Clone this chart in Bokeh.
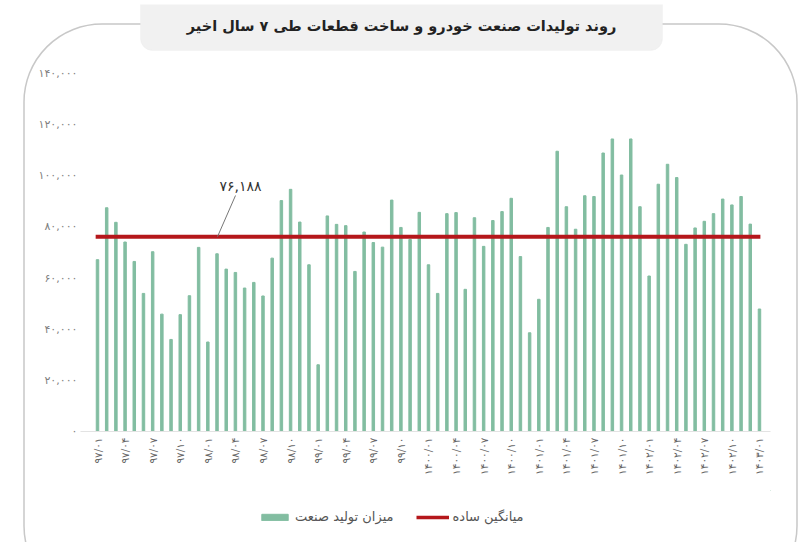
import math
from bokeh.plotting import figure
from bokeh.layouts import column
from bokeh.models import (Range1d, FixedTicker, BoxAnnotation, Label, Legend, LegendItem)
from bokeh.embed import file_html
from bokeh.resources import INLINE

# ---- data ----
production = [
    67200, 87500, 81800, 74100, 66500, 54000, 70300, 45900, 36000, 45700, 53100, 72000,
    35000, 69500, 63500, 62200, 56100, 58300, 53000, 67800, 90300, 94700, 81900, 65200,
    26100, 84300, 81000, 80500, 62600, 78000, 73900, 72100, 90500, 79800, 75100, 85700,
    65200, 54000, 85200, 85600, 55600, 83600, 72400, 82500, 86000, 91200, 68400, 38600,
    51700, 79800, 109600, 87900, 79100, 92200, 91900, 108900, 114400, 100300, 114400, 87900,
    60800, 96700, 104500, 99300, 73200, 79600, 82200, 85200, 90900, 88600, 91900, 81100,
    47900,
]
average_value = 76188
average_label = "۷۶,۱۸۸"
x_tick_labels = [
    "۹۷/۰۱", "۹۷/۰۴", "۹۷/۰۷", "۹۷/۱۰", "۹۸/۰۱", "۹۸/۰۴", "۹۸/۰۷", "۹۸/۱۰",
    "۹۹/۰۱", "۹۹/۰۴", "۹۹/۰۷", "۹۹/۱۰", "۱۴۰۰/۰۱", "۱۴۰۰/۰۴", "۱۴۰۰/۰۷", "۱۴۰۰/۱۰",
    "۱۴۰۱/۰۱", "۱۴۰۱/۰۴", "۱۴۰۱/۰۷", "۱۴۰۱/۱۰", "۱۴۰۲/۰۱", "۱۴۰۲/۰۴", "۱۴۰۲/۰۷", "۱۴۰۲/۱۰",
    "۱۴۰۳/۰۱",
]
y_ticks = [0, 20000, 40000, 60000, 80000, 100000, 120000, 140000]
y_tick_labels = ["۰", "۲۰,۰۰۰", "۴۰,۰۰۰", "۶۰,۰۰۰", "۸۰,۰۰۰", "۱۰۰,۰۰۰", "۱۲۰,۰۰۰", "۱۴۰,۰۰۰"]
title_text = "روند تولیدات صنعت خودرو و ساخت قطعات طی ۷ سال اخیر"
legend_bar = "میزان تولید صنعت"
legend_line = "میانگین ساده"

FONT = "DejaVu Sans"
BAR_COLOR = "#82bda1"
AVG_COLOR = "#b5171b"
W = 800
H_MAIN, H_LEG = 490, 52

# layout in canvas pixels of the main figure
FL, FR, FT, FB = 80, 770, 4, 431        # frame edges
X0_PX, DX_PX = 97, 9.194                # first bar centre, bar spacing
Y0_PX, YTOP_PX = 431, 73                # pixel of 0 and of 140000
ppu = (Y0_PX - YTOP_PX) / 140000.0

x_start = -(X0_PX - FL) / DX_PX
x_end = x_start + (FR - FL) / DX_PX
y_start = -(FB - Y0_PX) / ppu
y_end = (Y0_PX - FT) / ppu


def dx(px):
    return x_start + (px - FL) / DX_PX


def dy(py):
    return (Y0_PX - py) / ppu


idx = list(range(len(production)))

p = figure(width=W, height=H_MAIN, output_backend="svg", toolbar_location=None,
           x_range=Range1d(x_start, x_end), y_range=Range1d(y_start, y_end),
           min_border_left=FL, min_border_right=W - FR, min_border_top=FT,
           min_border_bottom=H_MAIN - FB)
p.outline_line_color = None
p.background_fill_alpha = 0
p.border_fill_alpha = 0
p.xgrid.visible = False
p.ygrid.visible = False

# title box + title
title_box = BoxAnnotation(left=dx(140), right=dx(662), top=dy(-12), bottom=dy(50),
                          fill_color="#f1f1f1", fill_alpha=1, line_color="#ececec",
                          border_radius=12)
p.add_layout(title_box)
title_lbl = Label(x=dx(401), y=dy(25), text=title_text,
                  text_font=FONT, text_font_style="bold", text_font_size="14.5px",
                  text_color="#222222", text_align="center", text_baseline="middle")
p.add_layout(title_lbl)

bars = p.vbar(x=idx, top=production, width=0.27, bottom=0, color=BAR_COLOR)
avg_line = p.line(x=[idx[0] - 0.2, idx[-1] + 0.1], y=[average_value, average_value],
                  line_color=AVG_COLOR, line_width=4)

# annotation of the average
p.segment(x0=[dx(217)], y0=[average_value], x1=[dx(235)], y1=[dy(195)],
          line_color="#777777", line_width=1)
avg_lbl = Label(x=dx(240), y=dy(185), text=average_label, text_align="center",
                text_baseline="middle", text_font_size="14px", text_color="#333333",
                text_font=FONT)
p.add_layout(avg_lbl)

# axes
p.xaxis.ticker = FixedTicker(ticks=idx[::3])
p.xaxis.major_label_overrides = {i: lab for i, lab in zip(idx[::3], x_tick_labels)}
p.xaxis.major_label_orientation = math.pi / 2
p.xaxis.major_label_text_font = FONT
p.xaxis.major_label_text_font_size = "10.5px"
p.xaxis.major_label_text_color = "#666666"
p.xaxis.axis_line_color = "#e3e3e3"
p.xaxis.major_tick_line_color = None
p.xaxis.minor_tick_line_color = None
p.xaxis.major_label_standoff = 0

p.yaxis.ticker = FixedTicker(ticks=y_ticks)
p.yaxis.major_label_overrides = {t: lab for t, lab in zip(y_ticks, y_tick_labels)}
p.yaxis.major_label_text_font = FONT
p.yaxis.major_label_text_font_size = "11px"
p.yaxis.major_label_text_color = "#808080"
p.yaxis.axis_line_color = None
p.yaxis.major_tick_line_color = None
p.yaxis.minor_tick_line_color = None
p.yaxis.major_label_standoff = -3

# legend strip
pl = figure(width=W, height=H_LEG, output_backend="svg", toolbar_location=None,
            x_range=Range1d(0, 1), y_range=Range1d(0, 1),
            x_axis_location=None, y_axis_location=None,
            min_border_left=0, min_border_right=0, min_border_top=0, min_border_bottom=0)
pl.outline_line_color = None
pl.background_fill_alpha = 0
pl.border_fill_alpha = 0
pl.grid.visible = False
leg_bar = pl.vbar(x=[5], top=[5], bottom=[4], width=0.3, color=BAR_COLOR)
leg_line = pl.line(x=[5, 6], y=[5, 5], line_color=AVG_COLOR, line_width=3.5)
legend = Legend(items=[LegendItem(label=legend_bar, renderers=[leg_bar]),
                       LegendItem(label=legend_line, renderers=[leg_line])],
                orientation="horizontal", location=(178, 18),
                background_fill_alpha=0, border_line_color=None,
                label_text_font=FONT, label_text_font_size="13px", label_text_color="#555555",
                glyph_width=33, glyph_height=8, spacing=22, label_standoff=4, padding=6)
pl.add_layout(legend, "center")

frame_svg = ("url(\"data:image/svg+xml;utf8,<svg xmlns='http://www.w3.org/2000/svg' "
             "width='%d' height='%d'><rect x='24' y='24' width='773' height='580' rx='78' ry='78' "
             "fill='none' stroke='%%23c8c8c8' stroke-width='1.5'/></svg>\")" % (W, H_MAIN + H_LEG))

layout = column(p, pl, spacing=0)
layout.styles = {"background-image": frame_svg, "background-repeat": "no-repeat"}

open("out.html", "w").write(file_html(layout, INLINE))
